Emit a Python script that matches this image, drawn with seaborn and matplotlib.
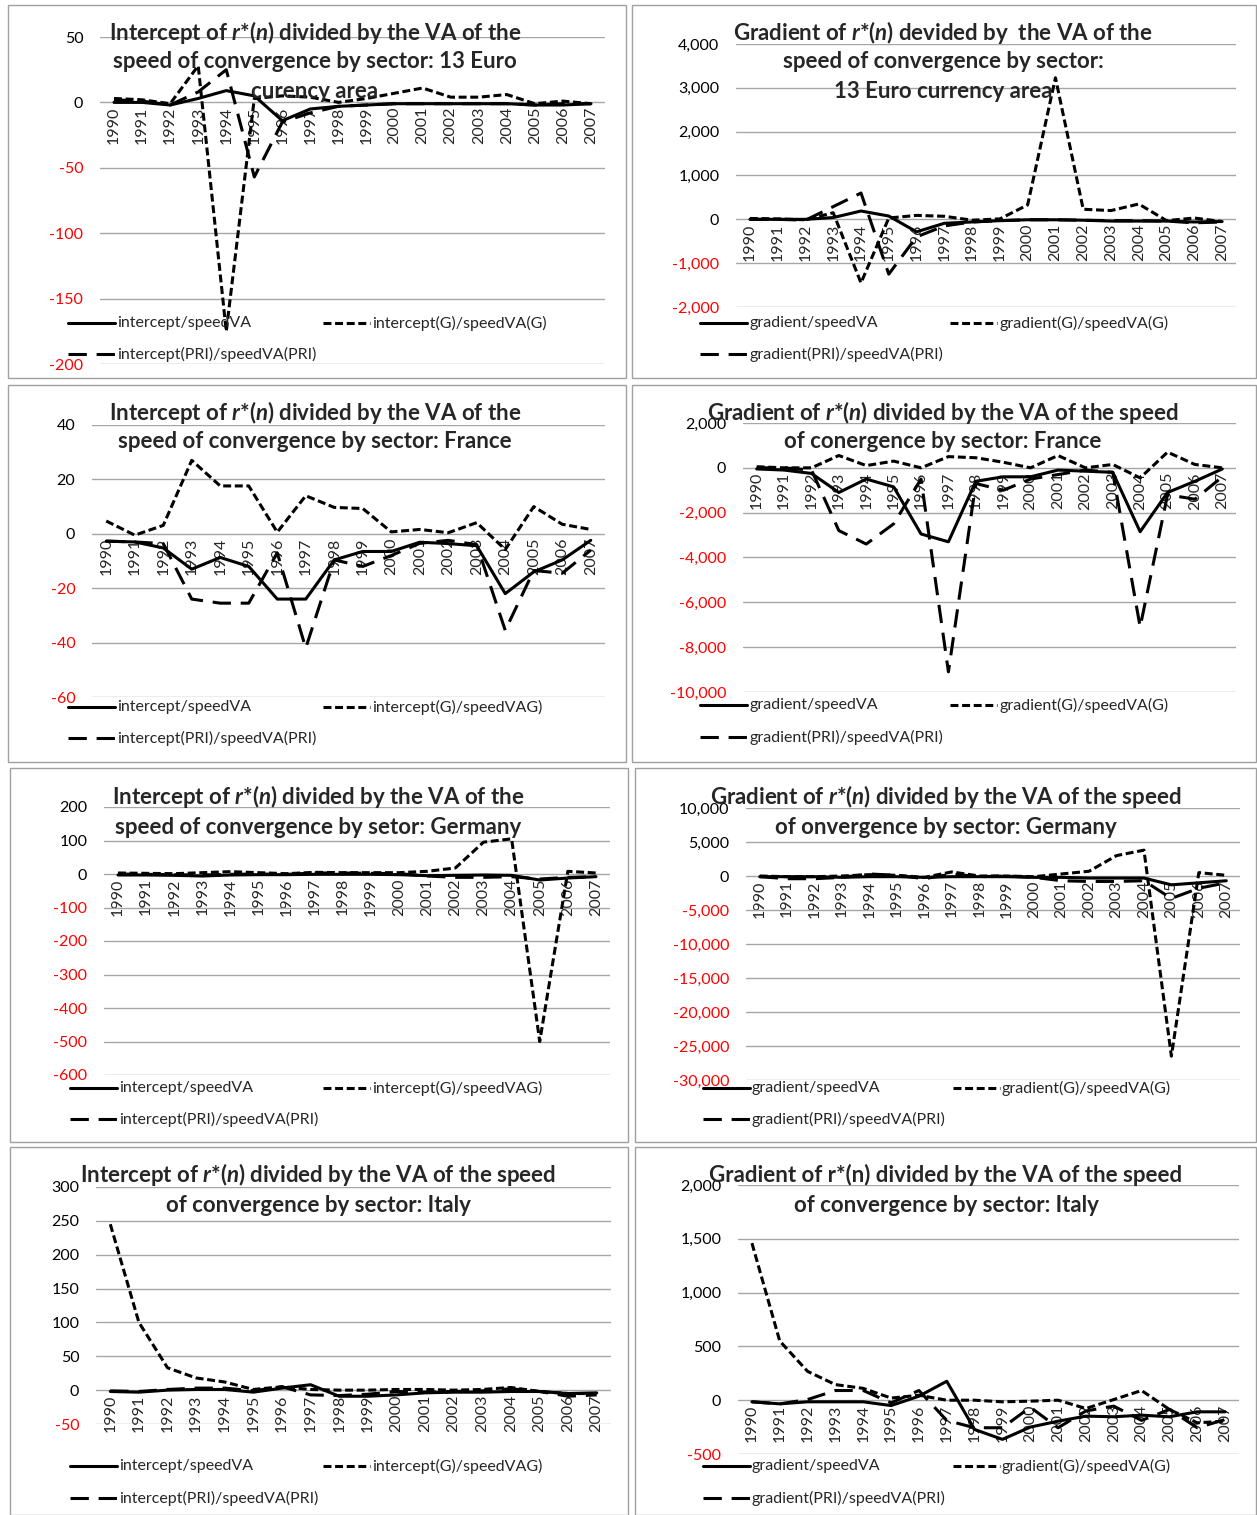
import numpy as np
import pandas as pd
import matplotlib
matplotlib.use("Agg")
import matplotlib.pyplot as plt
from matplotlib.lines import Line2D
from matplotlib.patches import Rectangle
import seaborn as sns

sns.set_style("white")
plt.rcParams["font.family"] = ["Lato", "DejaVu Sans"]
plt.rcParams["mathtext.fontset"] = "custom"
plt.rcParams["mathtext.it"] = "Lato:bold:italic"
plt.rcParams["mathtext.rm"] = "Lato:bold"
plt.rcParams["mathtext.bf"] = "Lato:bold"

years = list(range(1990, 2008))

# 13 Euro currency area
euro_int = [0, 0, -2, 3, 9, 5, -14, -5, -3, -2, -1, -1, -1, -1, -1, -2, -2, -1]
euro_int_g = [3, 2, -1, 28, -175, 3, 5, 4, 0, 3, 7, 11, 4, 4, 6, -1, 1, -1]
euro_int_pri = [2, 1, -2, 8, 25, -57, -15, -8, -3, -2, -1, -1, -1, -1, -1, -2, -1, -1]
euro_grad = [0, 0, 0, 40, 190, 75, -285, -90, -60, -30, -10, -10, -20, -40, -40, -40, -60, -50]
euro_grad_g = [20, 10, -10, 150, -1450, 30, 90, 70, -20, 10, 330, 3230, 230, 200, 350, -30, 30, -50]
euro_grad_pri = [0, 0, -20, 290, 600, -1250, -400, -150, -60, -30, -10, -10, -20, -30, -30, -40, -80, -60]

# France
fr_int = [-2.7, -3, -5.2, -13, -8.7, -12, -24, -24, -9.6, -6.5, -6.5, -3.1, -3.6, -4.4, -22, -14, -9.6, -2.4]
fr_int_g = [4.7, -0.5, 3.1, 27, 17.6, 17.6, 0.6, 14, 9.7, 9.3, 0.7, 1.6, 0.4, 4.1, -5.8, 10, 3.5, 1.6]
fr_int_pri = [-2.7, -3, -3.6, -24, -25.5, -25.5, -7, -42, -9.6, -12, -8, -3.5, -2.4, -4, -35.5, -13.5, -14.5, -6]
fr_grad = [-50, -100, -250, -1100, -500, -850, -2950, -3300, -600, -400, -400, -100, -150, -200, -2850, -1100, -600, -50]
fr_grad_g = [50, 0, 0, 550, 100, 300, 0, 500, 450, 250, 0, 550, 0, 150, -450, 700, 150, 0]
fr_grad_pri = [0, 0, -100, -2800, -3400, -2500, -500, -9100, -700, -1000, -500, -300, -100, -200, -7100, -1200, -1400, -400]

# Germany
de_int = [-3, -3, -4, -6, -3, -2, -2, -1, -1, -1, -2, -5, -4, -3, -4, -18, -12, -8]
de_int_g = [3, 2, 1, 4, 7, 4, 1, 5, 4, 4, 4, 8, 18, 95, 105, -500, 8, 3]
de_int_pri = [0, -1, -2, -3, -1, 0, -1, 3, 3, 2, 1, -6, -10, -10, -8, -15, -10, -8]
de_grad = [-100, -100, -100, -200, -100, -100, -200, -100, -100, -100, -200, -200, -300, -300, -300, -1300, -1000, -700]
de_grad_g = [0, -100, -100, 0, 200, 100, -200, 600, 0, 0, -100, 300, 700, 3000, 3800, -26500, 500, 100]
de_grad_pri = [-100, -400, -400, -200, 300, 100, -400, 300, -100, 0, -200, -700, -800, -800, -700, -3300, -1800, -1000]

# Italy
it_int = [-2, -3, 0, 1, 1, -3, 3, 8, -9, -9, -7, -4, -3, -3, -2, -2, -5, -4]
it_int_g = [245, 100, 33, 18, 12, 1, 5, 1, 0, 0, 1, 1, 0, 1, 4, -2, -5, -5]
it_int_pri = [-1, -2, 1, 3, 3, -1, 5, -7, -8, -6, -2, -3, -2, -1, 2, -2, -9, -7]
it_grad = [-15, -34, -15, -15, -15, -50, 37, 176, -272, -364, -250, -195, -148, -154, -139, -154, -108, -108]
it_grad_g = [1460, 550, 268, 145, 110, 20, 46, 0, 0, -15, -9, 0, -77, 6, 90, -86, -210, -195]
it_grad_pri = [-15, -34, 6, 90, 90, -25, 90, -188, -256, -256, -65, -256, -100, -55, -188, -86, -256, -180]

int_labels = ["intercept/speedVA", "intercept(G)/speedVA(G)", "intercept(PRI)/speedVA(PRI)"]
int_labels_b = ["intercept/speedVA", "intercept(G)/speedVAG)", "intercept(PRI)/speedVA(PRI)"]
grad_labels = ["gradient/speedVA", "gradient(G)/speedVA(G)", "gradient(PRI)/speedVA(PRI)"]

R = r"$\mathit{r}$*($\mathit{n}$)"
titles = [
    ["Intercept of " + R + " divided by the VA of the",
     "speed of convergence by sector: 13 Euro", "curency area"],
    ["Gradient of " + R + " devided by  the VA of the",
     "speed of convergence by sector:", "13 Euro currency area"],
    ["Intercept of " + R + " divided by the VA of the",
     "speed of convergence by sector: France"],
    ["Gradient of " + R + " divided by the VA of the speed",
     "of conergence by sector: France"],
    ["Intercept of " + R + " divided by the VA of the",
     "speed of convergence by setor: Germany"],
    ["Gradient of " + R + " divided by the VA of the speed",
     "of onvergence by sector: Germany"],
    ["Intercept of " + R + " divided by the VA of the speed",
     "of convergence by sector: Italy"],
    ["Gradient of r*(n) divided by the VA of the speed",
     "of convergence by sector: Italy"],
]

W, H = 1257, 1515
fig = plt.figure(figsize=(W / 100, H / 100), dpi=100)
fig.patch.set_facecolor("white")

def fx(x):
    return x / W

def fy(y):
    return 1 - y / H

LW = 2.2
FS = 11.5
DASHES = {"base": "", "G": (2.6, 1.2), "PRI": (6.0, 3.2)}
STYLES = ["base", "G", "PRI"]

# plot area (left, right, top, bottom px), y ticks, border box, legend anchors, title anchor
panels = [
    dict(series=(euro_int, euro_int_g, euro_int_pri), labels=int_labels,
         area=(100, 605, 37, 364), ticks=np.arange(-200, 51, 50),
         box=(8, 5, 626, 378), leg=(68, 323, 323, 354), title=(315, 32)),
    dict(series=(euro_grad, euro_grad_g, euro_grad_pri), labels=grad_labels,
         area=(736, 1236, 44, 307), ticks=np.arange(-2000, 4001, 1000),
         box=(632, 5, 1256, 378), leg=(700, 950, 323, 354), title=(943, 32)),
    dict(series=(fr_int, fr_int_g, fr_int_pri), labels=int_labels_b,
         area=(92, 605, 425, 697), ticks=np.arange(-60, 41, 20),
         box=(8, 385, 626, 762), leg=(68, 323, 707, 738), title=(315, 412)),
    dict(series=(fr_grad, fr_grad_g, fr_grad_pri), labels=grad_labels,
         area=(743, 1236, 423, 692), ticks=np.arange(-10000, 2001, 2000),
         box=(632, 385, 1256, 762), leg=(700, 950, 705, 737), title=(943, 412)),
    dict(series=(de_int, de_int_g, de_int_pri), labels=int_labels_b,
         area=(104, 610, 807, 1075), ticks=np.arange(-600, 201, 100),
         box=(10, 768, 628, 1142), leg=(70, 323, 1088, 1119), title=(318, 797)),
    dict(series=(de_grad, de_grad_g, de_grad_pri), labels=grad_labels,
         area=(746, 1240, 808, 1080), ticks=np.arange(-30000, 10001, 5000),
         box=(635, 768, 1256, 1142), leg=(703, 953, 1088, 1119), title=(946, 797)),
    dict(series=(it_int, it_int_g, it_int_pri), labels=int_labels_b,
         area=(96, 611, 1187, 1424), ticks=np.arange(-50, 301, 50),
         box=(10, 1147, 628, 1515), leg=(70, 323, 1466, 1498), title=(318, 1175)),
    dict(series=(it_grad, it_grad_g, it_grad_pri), labels=grad_labels,
         area=(738, 1239, 1185, 1454), ticks=np.arange(-500, 2001, 500),
         box=(635, 1147, 1256, 1515), leg=(703, 953, 1466, 1498), title=(946, 1175)),
]

for p, title in zip(panels, titles):
    x0, y0, x1, y1 = p["box"]
    fig.add_artist(Rectangle((fx(x0), fy(y1)), (x1 - x0) / W, (y1 - y0) / H,
                             transform=fig.transFigure, fill=False,
                             edgecolor="#a0a0a0", linewidth=1.0))

    left, right, top, bottom = p["area"]
    ax = fig.add_axes([fx(left), fy(bottom), (right - left) / W, (bottom - top) / H])
    ax.set_facecolor("none")

    n = len(years)
    df = pd.DataFrame({
        "pos": np.tile(np.arange(n), 3),
        "value": np.concatenate([np.asarray(s, float) for s in p["series"]]),
        "series": np.repeat(STYLES, n),
    })
    sns.lineplot(data=df, x="pos", y="value", style="series", style_order=STYLES,
                 dashes=DASHES, color="black", linewidth=LW, legend=False,
                 estimator=None, sort=False, ax=ax)

    # category axis crosses the value axis at zero
    for side in ("left", "right", "top"):
        ax.spines[side].set_visible(False)
    ax.spines["bottom"].set_position(("data", 0))
    ax.spines["bottom"].set_visible(False)

    ticks = p["ticks"]
    ax.set_xlim(-0.5, n - 0.5)
    ax.set_ylim(ticks[0], ticks[-1])
    ax.set_yticks(ticks)
    ax.set_yticklabels([f"{v:,.0f}" for v in ticks], fontsize=FS)
    for lbl, v in zip(ax.get_yticklabels(), ticks):
        lbl.set_color("#ff0000" if v < 0 else "black")
    ax.set_xticks(np.arange(n))
    ax.set_xticklabels([str(y) for y in years], fontsize=FS)
    ax.tick_params(axis="x", length=0, pad=3, labelrotation=90)
    ax.tick_params(axis="y", length=0, pad=12)
    ax.set_xlabel("")
    ax.set_ylabel("")
    ax.grid(axis="y", color="#a6a6a6", linewidth=1.0)
    ax.grid(axis="x", visible=False)
    ax.set_axisbelow(True)

    # legend drawn as two rows, G entry in the second column
    lx1, lx2, ly1, ly2 = p["leg"]
    entries = [(lx1, ly1, "base", p["labels"][0]),
               (lx2, ly1, "G", p["labels"][1]),
               (lx1, ly2, "PRI", p["labels"][2])]
    for hx, hy, st, lab in entries:
        ls = "-" if st == "base" else (0, DASHES[st])
        fig.add_artist(Line2D([fx(hx), fx(hx + 47)], [fy(hy), fy(hy)],
                              transform=fig.transFigure, color="black",
                              linewidth=LW, linestyle=ls))
        fig.text(fx(hx + 49), fy(hy), lab, fontsize=FS, va="center", ha="left")

    tx, ty = p["title"]
    for i, line in enumerate(title):
        fig.text(fx(tx), fy(ty + 30 * i), line, fontsize=16, fontweight="bold",
                 ha="center", va="center", zorder=10)

fig.savefig("out.png", dpi=100, facecolor="white")
